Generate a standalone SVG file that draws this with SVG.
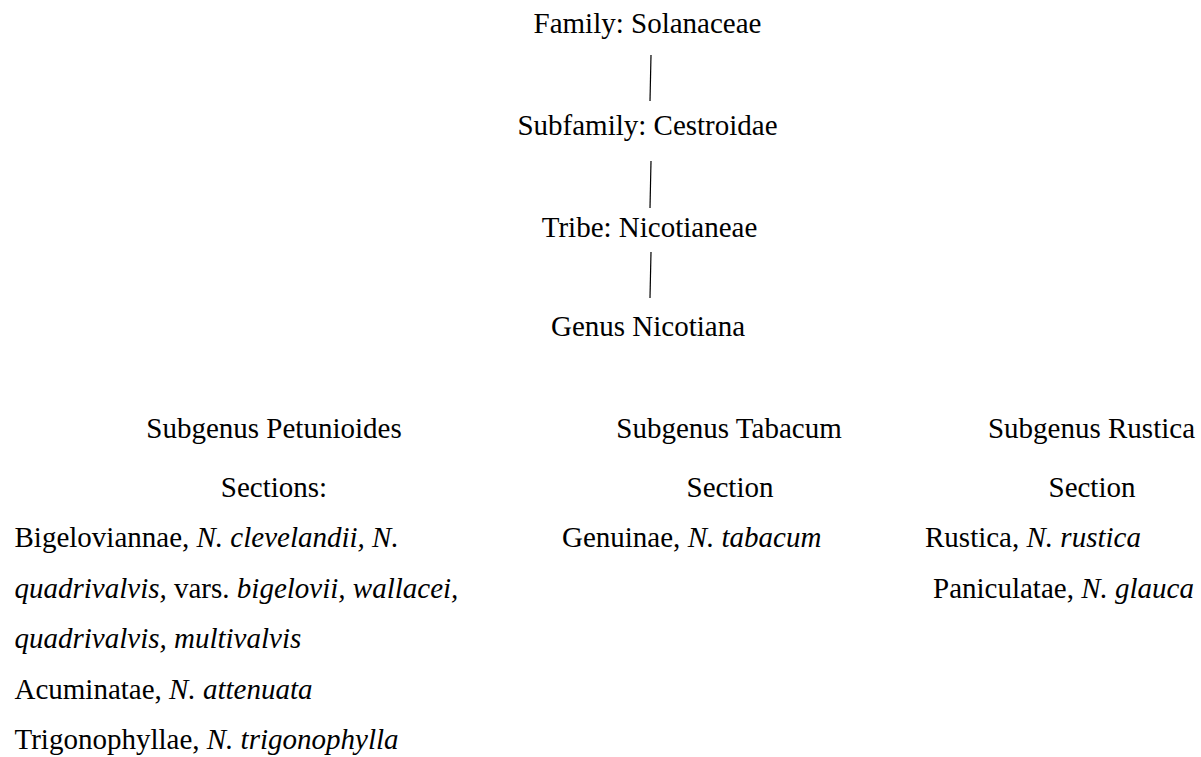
<svg xmlns="http://www.w3.org/2000/svg" width="1201" height="757" viewBox="0 0 1201 757">
<style>
  text { font-family: "Liberation Serif", "Times New Roman", serif; font-size: 29px; fill: #000; }
  .c { text-anchor: middle; }
  .i { font-style: italic; }
  .edge { stroke: #000; stroke-width: 1.2; fill: none; }
</style>
<rect width="1201" height="757" fill="#fff"/>
<g id="connectors">
  <line class="edge" x1="651" y1="55" x2="650" y2="101"/>
  <line class="edge" x1="651" y1="161" x2="650" y2="208"/>
  <line class="edge" x1="651" y1="252" x2="650" y2="298"/>
</g>
<g id="family"><text class="c" x="647.5" y="33">Family: Solanaceae</text></g>
<g id="subfamily"><text class="c" x="647.5" y="135">Subfamily: Cestroidae</text></g>
<g id="tribe"><text class="c" x="649.5" y="237">Tribe: Nicotianeae</text></g>
<g id="genus"><text class="c" x="648" y="336">Genus Nicotiana</text></g>
<g id="petunioides">
  <text class="c" x="274" y="438">Subgenus Petunioides</text>
  <text class="c" x="274" y="497">Sections:</text>
  <text x="14.5" y="547">Bigeloviannae, <tspan class="i">N. clevelandii, N.</tspan></text>
  <text x="14.5" y="598"><tspan class="i">quadrivalvis,</tspan> vars. <tspan class="i">bigelovii, wallacei,</tspan></text>
  <text x="14.5" y="648" class="i">quadrivalvis, multivalvis</text>
  <text x="14.5" y="699">Acuminatae, <tspan class="i">N. attenuata</tspan></text>
  <text x="14.5" y="749">Trigonophyllae, <tspan class="i">N. trigonophylla</tspan></text>
</g>
<g id="tabacum">
  <text class="c" x="729" y="438">Subgenus Tabacum</text>
  <text class="c" x="730" y="497">Section</text>
  <text x="562" y="547">Genuinae, <tspan class="i">N. tabacum</tspan></text>
</g>
<g id="rustica">
  <text class="c" x="1091.5" y="438">Subgenus Rustica</text>
  <text class="c" x="1092" y="497">Section</text>
  <text x="925" y="547">Rustica, <tspan class="i">N. rustica</tspan></text>
  <text x="933" y="598">Paniculatae, <tspan class="i">N. glauca</tspan></text>
</g>
</svg>
